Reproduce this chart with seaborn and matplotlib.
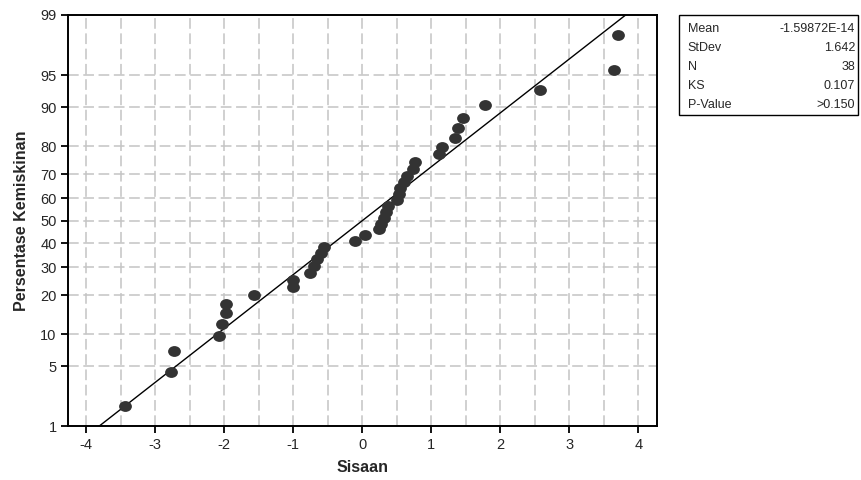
import numpy as np
import pandas as pd
import matplotlib
matplotlib.use('Agg')
import matplotlib.pyplot as plt
import seaborn as sns
from matplotlib.patches import Rectangle
from matplotlib.path import Path
from statistics import NormalDist

# Sisaan (residu) terurut
sisaan = [-3.44, -2.77, -2.73, -2.08, -2.03, -1.98, -1.98, -1.575, -1.00, -1.00,
          -0.76, -0.70, -0.65, -0.60, -0.55, -0.11, 0.04, 0.24, 0.27, 0.31,
          0.34, 0.37, 0.50, 0.53, 0.54, 0.60, 0.65, 0.73, 0.76, 1.11,
          1.16, 1.34, 1.385, 1.46, 1.78, 2.58, 3.65, 3.70]
# persentase kumulatif tiap titik
persen = [1.8, 4.4, 7.0, 9.6, 12.2, 14.8, 17.4, 20.1, 22.7, 25.3,
          27.9, 30.5, 33.1, 35.7, 38.3, 40.9, 43.5, 46.1, 48.7, 51.3,
          53.9, 56.5, 59.1, 61.7, 64.3, 66.9, 69.5, 72.1, 74.7, 77.3,
          79.9, 82.6, 85.2, 87.8, 90.4, 93.0, 95.6, 98.2]

y_ticks = [1, 5, 10, 20, 30, 40, 50, 60, 70, 80, 90, 95, 99]
x_ticks = [-4, -3, -2, -1, 0, 1, 2, 3, 4]

stat_names = ['Mean', 'StDev', 'N', 'KS', 'P-Value']
stat_values = ['-1.59872E-14', '1.642', '38', '0.107', '>0.150']
mean_val = -1.59872e-14
sd_val = 1.642

nd = NormalDist()
def to_z(p):
    return nd.inv_cdf(p / 100.0)

df = pd.DataFrame({'Sisaan': sisaan, 'z': [to_z(p) for p in persen]})

# marker elips (sedikit lebih lebar), mirip titik Minitab
circ = Path.unit_circle()
elips = Path(circ.vertices * np.array([1.18, 1.0]), circ.codes)

sns.set_style('white')
plt.rcParams['font.family'] = ['Liberation Sans', 'DejaVu Sans']

fig = plt.figure(figsize=(8.62, 4.80), dpi=100)
ax = fig.add_axes([0.0785, 0.1115, 0.6835, 0.8575])

xlim = (-4.27, 4.27)
ylim = (to_z(1), to_z(99))

# garis fit normal
x_line = np.array(xlim)
line_df = pd.DataFrame({'x': x_line, 'z': (x_line - mean_val) / sd_val})
sns.lineplot(data=line_df, x='x', y='z', color='black', linewidth=1.0, ax=ax)

sns.scatterplot(data=df, x='Sisaan', y='z', color='#333333', s=85, marker=elips,
                edgecolor='#333333', linewidth=0, ax=ax, zorder=3)

ax.set_xlim(xlim)
ax.set_ylim(ylim)

ax.set_xticks(x_ticks)
ax.set_xticklabels([str(t) for t in x_ticks])
ax.set_xticks(np.arange(-3.5, 4.0, 1.0), minor=True)
ax.set_yticks([to_z(p) for p in y_ticks])
ax.set_yticklabels([str(p) for p in y_ticks])

grid_kw = dict(color='#c4c4c4', linestyle=(0, (7, 3)), linewidth=1.1)
ax.grid(True, axis='x', which='both', **grid_kw)
ax.grid(True, axis='y', which='major', **grid_kw)
ax.set_axisbelow(True)

ax.tick_params(axis='both', which='major', direction='out', length=5, width=1.3,
               color='black', labelsize=10.5, pad=3, left=True, bottom=True)
ax.tick_params(axis='x', which='minor', length=0)
for sp in ax.spines.values():
    sp.set_color('black')
    sp.set_linewidth(1.4)

ax.set_xlabel('Sisaan', fontsize=11.5, fontweight='bold', labelpad=6)
ax.set_ylabel('Persentase Kemiskinan', fontsize=11.5, fontweight='bold', labelpad=8)

# kotak statistik
box = Rectangle((0.7877, 0.760), 0.2077, 0.209, transform=fig.transFigure,
                fill=False, edgecolor='black', linewidth=1.0)
fig.patches.append(box)
row_y = [0.9396, 0.900, 0.860, 0.821, 0.781]
for name, val, yy in zip(stat_names, stat_values, row_y):
    fig.text(0.798, yy, name, fontsize=9, va='center', ha='left')
    fig.text(0.992, yy, val, fontsize=9, va='center', ha='right')

fig.savefig('out.png', dpi=100)
